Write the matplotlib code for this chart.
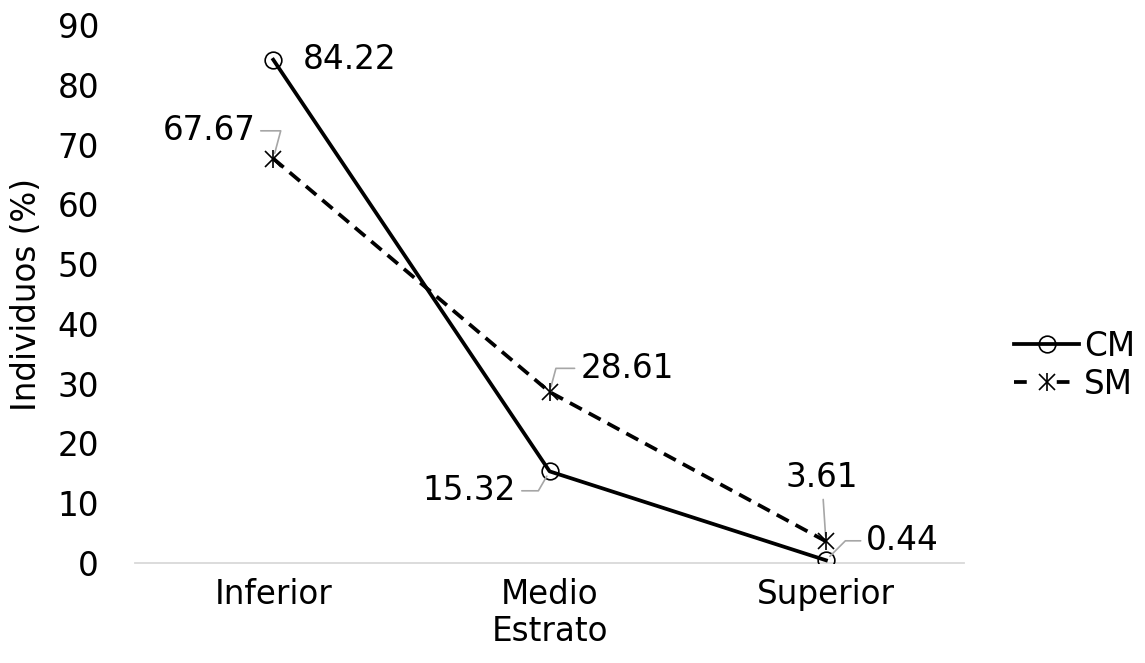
import matplotlib.pyplot as plt
from matplotlib.lines import Line2D
from matplotlib.legend_handler import HandlerTuple

# -- Data --
estratos = ["Inferior", "Medio", "Superior"]
cm_vals = [84.22, 15.32, 0.44]
sm_vals = [67.67, 28.61, 3.61]

# label offsets (points) relative to each point, with alignment
cm_offsets = [(21, 0, "left"), (-24, -14, "right"), (29, 14, "left")]
sm_offsets = [(-13, 20, "right"), (22, 17, "left"), (-3, 46, "center")]

plt.rcParams['font.family'] = ['DejaVu Sans']
fs = 23.5

fig = plt.figure(figsize=(11.45, 6.63), dpi=100)
ax = fig.add_axes([0.118, 0.151, 0.724, 0.811])

x = list(range(len(estratos)))
lw = 2.7
dash = (0, (3.6, 2.1))

ax.plot(x, cm_vals, color="black", lw=lw, marker="o", ms=12,
        mfc="none", mec="black", mew=1.2, zorder=3)
ax.plot(x, sm_vals, color="black", lw=lw, ls=dash, marker="x",
        ms=11, mec="black", mew=1.2, zorder=3)
ax.plot(x, sm_vals, ls="none", marker="|", ms=13, mec="black", mew=1.2, zorder=4)

gray = "#a6a6a6"


def label(xi, yi, off, txt, leader, angle=80):
    dx, dy, ha = off
    if leader:
        ax.annotate(txt, (xi, yi), xytext=(dx, dy), textcoords="offset points",
                    ha=ha, va="center", fontsize=fs,
                    arrowprops=dict(arrowstyle="-", color=gray, lw=1.2,
                                    shrinkA=2, shrinkB=4,
                                    connectionstyle=f"angle,angleA=0,angleB={angle},rad=0"
                                    if ha != "center" else "arc3"))
    else:
        ax.annotate(txt, (xi, yi), xytext=(dx, dy), textcoords="offset points",
                    ha=ha, va="center", fontsize=fs)


cm_angles = [80, 60, 45]
for i, v in enumerate(cm_vals):
    label(x[i], v, cm_offsets[i], f"{v:.2f}", i != 0, cm_angles[i])
for i, v in enumerate(sm_vals):
    label(x[i], v, sm_offsets[i], f"{v:.2f}", True, 75)

ax.set_xlim(-0.5, len(estratos) - 0.5)
ax.set_ylim(0, 90)
ax.set_yticks(range(0, 91, 10))
ax.set_xticks(x)
ax.set_xticklabels(estratos)
ax.tick_params(axis="both", length=0, labelsize=fs)
ax.tick_params(axis="y", pad=26)
ax.tick_params(axis="x", pad=11)

for s in ["top", "right", "left"]:
    ax.spines[s].set_visible(False)
ax.spines["bottom"].set_color("#d9d9d9")
ax.spines["bottom"].set_linewidth(1.3)

ax.set_ylabel("Individuos (%)", fontsize=fs, labelpad=10)
ax.set_xlabel("Estrato", fontsize=fs, labelpad=3)

h_cm = Line2D([], [], color="black", lw=lw, marker="o", ms=12,
              mfc="none", mec="black", mew=1.2)
h_sm1 = Line2D([], [], color="black", lw=lw, ls=(0, (3.4, 8)), marker="x",
               ms=11, mec="black", mew=1.2)
h_sm2 = Line2D([], [], ls="none", marker="|", ms=13, mec="black", mew=1.2)

fig.legend([h_cm, (h_sm1, h_sm2)], ["CM", "SM"],
           handler_map={tuple: HandlerTuple(ndivide=1)},
           loc="center left", bbox_to_anchor=(0.86, 0.449), frameon=False,
           fontsize=fs, handlelength=2.0, handletextpad=0.15, labelspacing=0.15)

fig.savefig("out.png", dpi=100)
